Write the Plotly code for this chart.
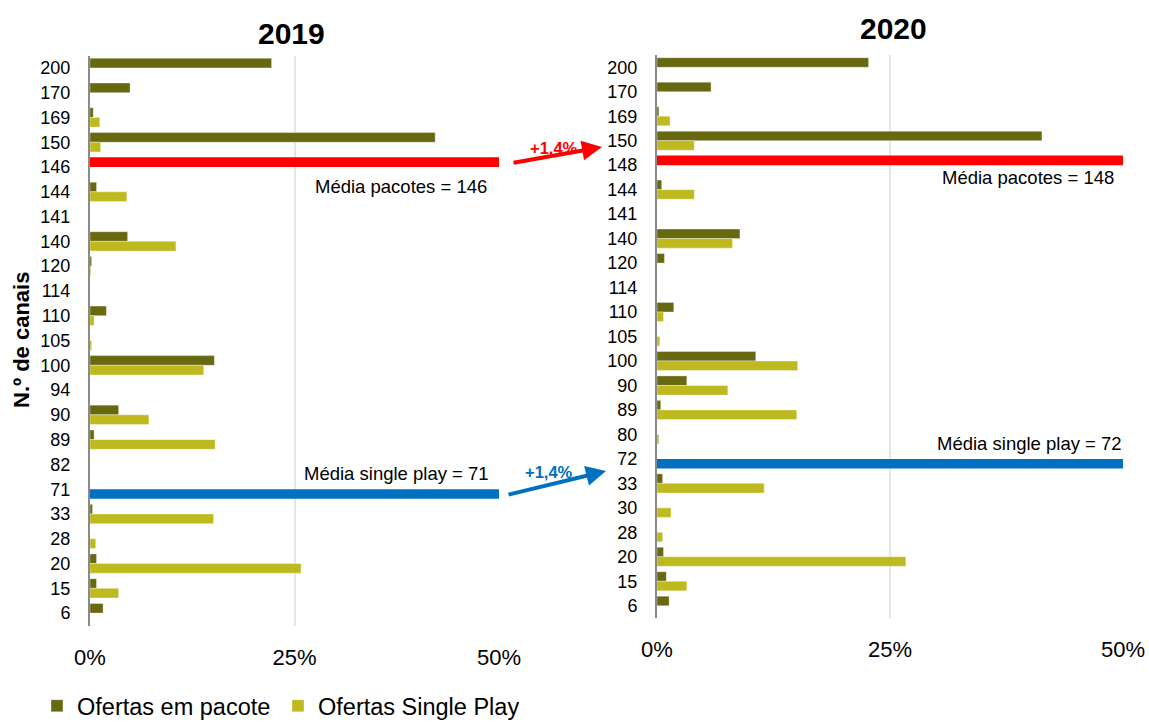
import plotly.graph_objects as go

W, H = 1149, 722

# ---------------- data ----------------
cats_2019 = ["200", "170", "169", "150", "146", "144", "141", "140", "120", "114", "110", "105",
             "100", "94", "90", "89", "82", "71", "33", "28", "20", "15", "6"]
pacote_2019 = [22.2, 4.9, 0.4, 42.2, None, 0.8, None, 4.6, 0.2, None, 2.0, None,
               15.2, None, 3.5, 0.5, None, None, 0.3, None, 0.8, 0.8, 1.6]
single_2019 = [None, None, 1.2, 1.3, None, 4.5, None, 10.5, 0.1, None, 0.5, 0.2,
               13.9, None, 7.2, 15.3, None, None, 15.1, 0.7, 25.8, 3.5, None]

cats_2020 = ["200", "170", "169", "150", "148", "144", "141", "140", "120", "114", "110", "105",
             "100", "90", "89", "80", "72", "33", "30", "28", "20", "15", "6"]
pacote_2020 = [22.7, 5.8, 0.2, 41.3, None, 0.5, None, 8.9, 0.8, None, 1.8, None,
               10.6, 3.2, 0.4, None, None, 0.6, None, None, 0.7, 1.0, 1.3]
single_2020 = [None, None, 1.4, 4.0, None, 4.0, None, 8.1, None, None, 0.7, 0.3,
               15.1, 7.6, 15.0, 0.2, None, 11.5, 1.5, 0.6, 26.7, 3.2, None]

mean_pacote = {"2019": "146", "2020": "148"}
mean_single = {"2019": "71", "2020": "72"}
mean_line_len = 50  # mean markers span the whole axis
variation_pacote = "+1,4%"
variation_single = "+1,4%"

x_tickvals = [0, 25, 50]
x_ticktext = ["0%", "25%", "50%"]
series_names = ["Ofertas em pacote", "Ofertas Single Play"]

# ---------------- style ----------------
C_PAC = "#686810"
C_SP = "#BDB91F"
C_RED = "#FF0000"
C_BLUE = "#0070C0"
FONT = "Arial, Liberation Sans, sans-serif"


def px(x):
    return x / W


def py(y):
    return 1 - y / H


fig = go.Figure()

panels = [
    ("2019", cats_2019, pacote_2019, single_2019, "x", "y"),
    ("2020", cats_2020, pacote_2020, single_2020, "x2", "y2"),
]

for i, (yr, cats, pac, sp, xa, ya) in enumerate(panels):
    line = dict(color="rgba(255,255,255,0.45)", width=0.8)
    fig.add_trace(go.Bar(y=cats, x=pac, orientation="h", name=series_names[0],
                         marker=dict(color=C_PAC, line=line), offsetgroup="a",
                         xaxis=xa, yaxis=ya, showlegend=(i == 0), legendgroup="p"))
    fig.add_trace(go.Bar(y=cats, x=sp, orientation="h", name=series_names[1],
                         marker=dict(color=C_SP, line=line), offsetgroup="b",
                         xaxis=xa, yaxis=ya, showlegend=(i == 0), legendgroup="s"))
    fig.add_trace(go.Bar(y=[mean_pacote[yr]], x=[mean_line_len], orientation="h",
                         marker=dict(color=C_RED, line=dict(width=0)), offsetgroup="a",
                         xaxis=xa, yaxis=ya, showlegend=False, hoverinfo="skip"))
    fig.add_trace(go.Bar(y=[mean_single[yr]], x=[mean_line_len], orientation="h",
                         marker=dict(color=C_BLUE, line=dict(width=0)), offsetgroup="b",
                         xaxis=xa, yaxis=ya, showlegend=False, hoverinfo="skip"))

xcommon = dict(range=[0, 50], tickvals=x_tickvals, ticktext=x_ticktext, showgrid=True,
               gridcolor="#E6E6E6", gridwidth=1.5, zeroline=False, showline=False,
               ticks="", tickfont=dict(size=22, color="#000", family=FONT),
               ticklabelstandoff=16, fixedrange=True, automargin=False)
ycommon = dict(type="category", categoryorder="array", autorange="reversed",
               showline=True, linecolor="#8A8A8A", linewidth=2, showgrid=False,
               ticks="", tickfont=dict(size=18, color="#000", family=FONT),
               ticklabelstandoff=14, fixedrange=True, automargin=False)

fig.update_layout(
    width=W, height=H,
    margin=dict(l=0, r=0, t=0, b=0, autoexpand=False),
    paper_bgcolor="white", plot_bgcolor="white",
    barmode="group", bargap=0.22, bargroupgap=0,
    font=dict(family=FONT, color="#000"),
    xaxis=dict(domain=[px(90), px(499)], anchor="y", **xcommon),
    yaxis=dict(domain=[py(625.5), py(55.5)], anchor="x", categoryarray=cats_2019, **ycommon),
    xaxis2=dict(domain=[px(657), px(1123)], anchor="y2", **xcommon),
    yaxis2=dict(domain=[py(618), py(55)], anchor="x2", categoryarray=cats_2020, **ycommon),
    legend=dict(orientation="h", x=px(37), y=py(706), xanchor="left", yanchor="middle",
                font=dict(size=23.5, color="#000", family=FONT),
                entrywidth=196, entrywidthmode="pixels", traceorder="normal",
                itemclick=False, itemdoubleclick=False),
    showlegend=True,
)

ann = []
# titles
ann.append(dict(text="<b>2019</b>", x=px(291), y=py(33), xref="paper", yref="paper",
                xanchor="center", yanchor="middle",
                showarrow=False, font=dict(size=30, family=FONT, color="#000")))
ann.append(dict(text="<b>2020</b>", x=px(893), y=py(29), xref="paper", yref="paper",
                xanchor="center", yanchor="middle",
                showarrow=False, font=dict(size=30, family=FONT, color="#000")))
# y axis title
ann.append(dict(text="<b>N.º de canais</b>", x=px(22), y=py(340), xref="paper", yref="paper",
                xanchor="center", yanchor="middle",
                showarrow=False, textangle=-90, font=dict(size=22, family=FONT, color="#000")))
# mean labels
for txt, xr, yc in [(f"Média pacotes = {mean_pacote['2019']}", 489, 186),
                    (f"Média single play = {mean_single['2019']}", 491, 474),
                    (f"Média pacotes = {mean_pacote['2020']}", 1116, 177),
                    (f"Média single play = {mean_single['2020']}", 1124, 443)]:
    ann.append(dict(text=txt, x=px(xr), y=py(yc), xref="paper", yref="paper",
                    xanchor="right", yanchor="middle", showarrow=False,
                    font=dict(size=18.5, family=FONT, color="#000")))
# arrows
ann.append(dict(text="", x=px(602), y=py(147), xref="paper", yref="paper",
                ax=-90, ay=16, showarrow=True, arrowhead=2, arrowsize=1,
                arrowwidth=4, arrowcolor=C_RED))
ann.append(dict(text="", x=px(606), y=py(471), xref="paper", yref="paper",
                ax=-99, ay=24, showarrow=True, arrowhead=2, arrowsize=1,
                arrowwidth=4, arrowcolor=C_BLUE))
ann.append(dict(text=f"<b>{variation_pacote}</b>", x=px(554), y=py(148), xref="paper", yref="paper",
                xanchor="center", yanchor="middle",
                showarrow=False, font=dict(size=16.5, family=FONT, color=C_RED)))
ann.append(dict(text=f"<b>{variation_single}</b>", x=px(549), y=py(472), xref="paper", yref="paper",
                xanchor="center", yanchor="middle",
                showarrow=False, font=dict(size=16.5, family=FONT, color=C_BLUE)))

fig.update_layout(annotations=ann)

fig.write_html("out.html")
